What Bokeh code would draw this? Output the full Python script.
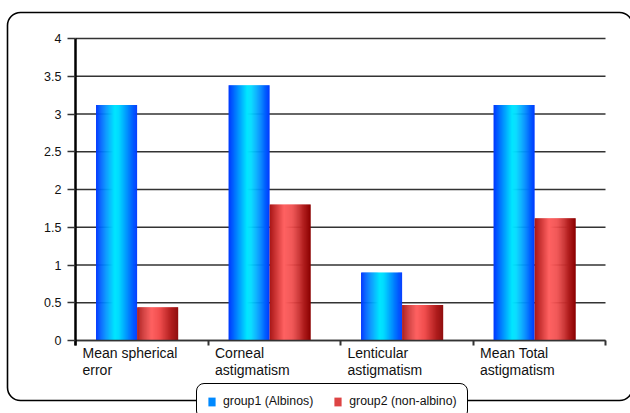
from bokeh.plotting import figure
from bokeh.models import (FixedTicker, Legend, LegendItem, BoxAnnotation, LabelSet,
                          ColumnDataSource, Range1d, LinearAxis)
from bokeh.core.properties import value
from bokeh.embed import file_html
from bokeh.resources import INLINE

# ---- data ----
categories = ["Mean spherical\nerror", "Corneal\nastigmatism",
              "Lenticular\nastigmatism", "Mean Total\nastigmatism"]
group1 = [3.12, 3.38, 0.90, 3.12]
group2 = [0.44, 1.80, 0.47, 1.62]
series_names = ["group1 (Albinos)", "group2 (non-albino)"]
y_ticks = [0, 0.5, 1, 1.5, 2, 2.5, 3, 3.5, 4]

FONT = "Liberation Sans"
W, H = 630, 413
# plot-area geometry (pixels) inside the canvas
PX_LEFT, PX_RIGHT, PX_TOP, PX_BOTTOM = 75, 605, 38, 340
NCAT = len(categories)
YMAX = 4
sx = (PX_RIGHT - PX_LEFT) / NCAT
sy = (PX_BOTTOM - PX_TOP) / YMAX

p = figure(width=W, height=H, output_backend="svg", toolbar_location=None, tools="",
           x_range=Range1d(-PX_LEFT / sx, (W - PX_LEFT) / sx),
           y_range=Range1d(-(H - PX_BOTTOM) / sy, PX_BOTTOM / sy),
           x_axis_location=None, y_axis_location=None,
           min_border=0, min_border_left=0, min_border_right=0,
           min_border_top=0, min_border_bottom=0)
p.outline_line_color = None
p.background_fill_color = "white"
p.border_fill_color = "white"
p.xgrid.visible = False
p.ygrid.visible = False

# outer rounded frame
outer = BoxAnnotation(left=7, right=632, top=12, bottom=400,
                      left_units="canvas", right_units="canvas",
                      top_units="canvas", bottom_units="canvas",
                      fill_alpha=0, line_color="black", line_alpha=1, line_width=1.6,
                      border_radius=13, level="underlay")
p.add_layout(outer)

# horizontal grid lines
p.segment(x0=[0] * len(y_ticks), x1=[NCAT] * len(y_ticks), y0=y_ticks, y1=y_ticks,
          line_color="#333333", line_width=1.5)

# ---- gradient helpers ----
def hex2rgb(h):
    h = h.lstrip("#")
    return tuple(int(h[i:i + 2], 16) for i in (0, 2, 4))

def grad(stops, t):
    for (t0, c0), (t1, c1) in zip(stops[:-1], stops[1:]):
        if t0 <= t <= t1:
            a, b = hex2rgb(c0), hex2rgb(c1)
            f = (t - t0) / (t1 - t0) if t1 > t0 else 0
            r = [round(a[k] + (b[k] - a[k]) * f) for k in range(3)]
            return "#%02x%02x%02x" % tuple(r)
    return stops[-1][1]

blue_stops = [(0.0, "#0036ff"), (0.45, "#00e6ff"), (0.55, "#00dcff"), (1.0, "#0038ff")]
red_stops = [(0.0, "#a81616"), (0.35, "#ff6262"), (0.55, "#f04e4e"), (1.0, "#8a0000")]

BAR_W = 0.31
OFFS = [0.155, 0.155 + BAR_W]  # left edge of each series within its category
N = 40
idx = list(range(NCAT))
swatch_renderers = []

for series, stops, off in ((group1, blue_stops, OFFS[0]), (group2, red_stops, OFFS[1])):
    sw = BAR_W / N
    rends = []
    for k in range(N):
        t = (k + 0.5) / N
        if k == N - 1:
            xs = [i + off + t * BAR_W for i in idx]
            wdt = sw
        else:
            xs = [i + off + (k + 0.75) * sw for i in idx]
            wdt = sw * 1.5
        src = ColumnDataSource(dict(x=xs, top=series))
        r = p.vbar(x="x", top="top", bottom=0, width=wdt, source=src,
                   fill_color=grad(stops, t), line_color=None)
        rends.append(r)
    swatch_renderers.append(rends[int(N * 0.2)])

# ---- axes (placed at the data origin) ----
yax = LinearAxis(fixed_location=0, bounds=(-5 / sy, YMAX), ticker=FixedTicker(ticks=y_ticks))
yax.axis_line_width = 2.5
yax.axis_line_color = "black"
yax.major_tick_out = 8
yax.major_tick_in = 0
yax.major_tick_line_width = 1.5
yax.major_tick_line_color = "#333333"
yax.minor_tick_line_color = None
yax.major_label_standoff = 6
yax.major_label_text_font = FONT
yax.major_label_text_font_size = "12.5px"
yax.major_label_text_color = "#111111"
p.add_layout(yax, "left")

xax = LinearAxis(fixed_location=0, bounds=(0, NCAT),
                 ticker=FixedTicker(ticks=list(range(NCAT + 1))))
xax.major_label_overrides = {i: "" for i in range(NCAT + 1)}
xax.axis_line_width = 1.5
xax.axis_line_color = "#333333"
xax.major_tick_out = 5
xax.major_tick_in = 0
xax.major_tick_line_width = 2
xax.major_tick_line_color = "#333333"
xax.minor_tick_line_color = None
p.add_layout(xax, "below")

# category labels (left aligned under each category)
lab_src = ColumnDataSource(dict(x=idx, y=[0] * NCAT, text=categories))
labels = LabelSet(x="x", y="y", text="text", source=lab_src, x_offset=7, y_offset=-4,
                  text_baseline="top", text_align="left", text_font=value(FONT),
                  text_font_size="14px", text_color="#111111", text_line_height=1.12)
p.add_layout(labels)

# ---- legend ----
legend = Legend(items=[LegendItem(label=series_names[0], renderers=[swatch_renderers[0]]),
                       LegendItem(label=series_names[1], renderers=[swatch_renderers[1]])],
                orientation="horizontal", location=(196, -6),
                glyph_width=9, glyph_height=11, label_standoff=7, spacing=20,
                padding=10, margin=0, label_height=12,
                label_text_font=FONT, label_text_font_size="12.3px",
                label_text_color="#111111",
                border_line_color="black", border_line_alpha=1, border_line_width=1.2,
                background_fill_color="white", background_fill_alpha=1)
try:
    legend.border_radius = 8
except Exception:
    pass
p.add_layout(legend)

open("out.html", "w").write(file_html(p, INLINE))
